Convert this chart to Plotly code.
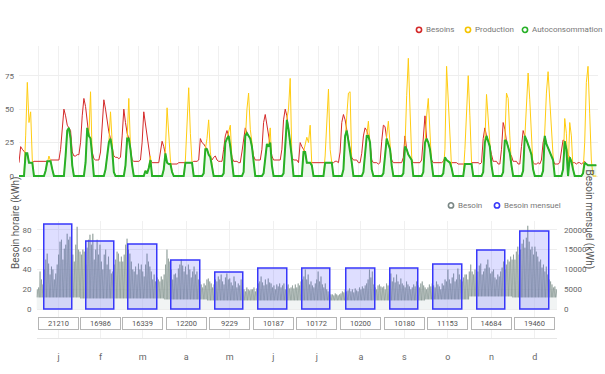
import numpy as np
import plotly.graph_objects as go

W, H = 605, 374

# ---------------- Top panel: hourly values (every 2 h) over 29 days ----------------
HEURES = [0, 2, 4, 6, 8, 10, 12, 14, 16, 18, 20, 22]

BESOINS = [
    [10, 22, 20, 18, 17, 17, 10, 10, 10, 11, 11, 11],
    [11, 11, 11, 11, 11, 11, 11, 12, 12, 12, 12, 12],
    [12, 20, 38, 50, 45, 38, 36, 34, 18, 15, 15, 16],
    [16, 25, 45, 58, 52, 40, 30, 28, 18, 13, 12, 12],
    [12, 18, 40, 57, 50, 40, 33, 28, 20, 15, 14, 14],
    [13, 14, 30, 50, 40, 32, 28, 20, 12, 11, 11, 11],
    [11, 12, 25, 48, 38, 30, 22, 12, 10, 10, 10, 10],
    [10, 18, 26, 22, 17, 10, 9, 9, 9, 9, 9, 9],
    [10, 10, 10, 10, 10, 10, 10, 10, 10, 11, 11, 11],
    [12, 28, 25, 24, 22, 20, 16, 14, 12, 14, 15, 12],
    [11, 11, 11, 20, 30, 34, 30, 22, 14, 11, 11, 11],
    [10, 10, 18, 28, 36, 32, 30, 28, 22, 15, 12, 12],
    [12, 12, 20, 40, 46, 38, 32, 25, 15, 12, 12, 12],
    [12, 12, 20, 42, 50, 45, 35, 25, 14, 12, 12, 12],
    [10, 25, 22, 20, 18, 10, 10, 10, 10, 10, 10, 10],
    [10, 10, 10, 10, 10, 10, 10, 10, 10, 10, 11, 11],
    [10, 18, 40, 46, 42, 34, 26, 20, 14, 12, 12, 12],
    [10, 10, 17, 30, 36, 34, 30, 25, 12, 10, 10, 10],
    [9, 10, 26, 38, 37, 28, 24, 20, 12, 10, 10, 10],
    [10, 10, 10, 14, 30, 20, 16, 14, 12, 10, 10, 10],
    [10, 10, 12, 32, 45, 28, 25, 20, 12, 10, 10, 10],
    [10, 10, 10, 11, 14, 12, 11, 10, 10, 10, 10, 10],
    [9, 9, 9, 9, 9, 9, 9, 9, 10, 10, 10, 10],
    [10, 9, 10, 28, 36, 30, 26, 22, 16, 11, 11, 11],
    [9, 9, 20, 40, 35, 26, 22, 17, 15, 11, 11, 11],
    [9, 9, 22, 34, 30, 27, 24, 20, 16, 10, 9, 9],
    [10, 9, 12, 25, 30, 24, 21, 18, 15, 12, 9, 9],
    [9, 10, 20, 27, 26, 20, 16, 14, 11, 10, 10, 9],
    [10, 10, 9, 10, 11, 9, 8, 8, 8, 8, 8, 8],
]

PRODUCTION = [
    [0, 0, 0, 0, 30, 70, 40, 48, 12, 0, 0, 0],
    [0, 0, 0, 0, 4, 11, 15, 11, 5, 0, 0, 0],
    [0, 0, 0, 0, 15, 34, 36, 28, 8, 0, 0, 0],
    [0, 0, 0, 0, 10, 36, 30, 63, 15, 0, 0, 0],
    [0, 0, 0, 0, 5, 15, 25, 48, 25, 3, 0, 0],
    [0, 0, 0, 0, 8, 28, 58, 22, 8, 0, 0, 0],
    [0, 0, 0, 0, 4, 2, 6, 15, 0, 0, 0, 0],
    [0, 0, 0, 5, 20, 51, 30, 12, 3, 0, 0, 0],
    [0, 0, 0, 0, 12, 40, 66, 32, 10, 0, 0, 0],
    [0, 0, 0, 2, 20, 28, 42, 18, 8, 0, 0, 0],
    [0, 0, 0, 2, 25, 28, 33, 38, 12, 0, 0, 0],
    [0, 0, 0, 3, 30, 50, 62, 35, 25, 10, 0, 0],
    [0, 0, 0, 2, 15, 24, 22, 36, 8, 0, 0, 0],
    [0, 0, 0, 2, 25, 42, 50, 73, 15, 0, 0, 0],
    [0, 0, 0, 18, 25, 29, 25, 38, 8, 0, 0, 0],
    [0, 0, 0, 0, 15, 45, 65, 20, 10, 0, 0, 0],
    [0, 0, 0, 5, 30, 45, 62, 63, 10, 0, 0, 0],
    [0, 0, 0, 3, 20, 30, 41, 25, 5, 0, 0, 0],
    [0, 0, 0, 2, 18, 30, 41, 20, 8, 0, 0, 0],
    [0, 0, 0, 2, 22, 60, 88, 50, 15, 0, 0, 0],
    [0, 0, 0, 3, 25, 45, 58, 35, 8, 0, 0, 0],
    [0, 0, 0, 2, 20, 82, 57, 35, 6, 0, 0, 0],
    [0, 0, 0, 0, 20, 50, 75, 45, 10, 0, 0, 0],
    [0, 0, 0, 3, 25, 61, 40, 25, 8, 0, 0, 0],
    [0, 0, 0, 3, 27, 62, 58, 30, 8, 0, 0, 0],
    [0, 0, 0, 4, 30, 60, 77, 57, 25, 5, 0, 0],
    [0, 0, 0, 4, 35, 62, 78, 55, 35, 15, 0, 0],
    [0, 0, 0, 5, 43, 32, 0, 40, 30, 5, 0, 0],
    [0, 0, 0, 2, 25, 70, 82, 47, 12, 0, 0, 0],
]

AUTOCONSOMMATION = [
    [0, 0, 0, 0, 17, 17, 10, 10, 10, 0, 0, 0],
    [0, 0, 0, 0, 4, 11, 11, 11, 5, 0, 0, 0],
    [0, 0, 0, 0, 15, 34, 36, 28, 8, 0, 0, 0],
    [0, 0, 0, 0, 10, 36, 30, 28, 15, 0, 0, 0],
    [0, 0, 0, 0, 5, 15, 25, 28, 20, 3, 0, 0],
    [0, 0, 0, 0, 8, 28, 28, 20, 8, 0, 0, 0],
    [0, 0, 0, 0, 4, 2, 6, 12, 0, 0, 0, 0],
    [0, 0, 0, 5, 17, 10, 9, 9, 3, 0, 0, 0],
    [0, 0, 0, 0, 10, 10, 10, 10, 10, 0, 0, 0],
    [0, 0, 0, 2, 20, 20, 16, 14, 8, 0, 0, 0],
    [0, 0, 0, 2, 25, 28, 30, 22, 12, 0, 0, 0],
    [0, 0, 0, 3, 30, 32, 30, 28, 22, 10, 0, 0],
    [0, 0, 0, 2, 15, 24, 22, 25, 8, 0, 0, 0],
    [0, 0, 0, 2, 25, 42, 35, 25, 14, 0, 0, 0],
    [0, 0, 0, 18, 18, 10, 10, 10, 8, 0, 0, 0],
    [0, 0, 0, 0, 10, 10, 10, 10, 10, 0, 0, 0],
    [0, 0, 0, 5, 30, 34, 26, 20, 10, 0, 0, 0],
    [0, 0, 0, 3, 20, 30, 30, 25, 5, 0, 0, 0],
    [0, 0, 0, 2, 18, 28, 24, 20, 8, 0, 0, 0],
    [0, 0, 0, 2, 22, 20, 16, 14, 12, 0, 0, 0],
    [0, 0, 0, 3, 25, 28, 25, 20, 8, 0, 0, 0],
    [0, 0, 0, 2, 14, 12, 11, 10, 6, 0, 0, 0],
    [0, 0, 0, 0, 9, 9, 9, 9, 9, 0, 0, 0],
    [0, 0, 0, 3, 25, 30, 26, 22, 8, 0, 0, 0],
    [0, 0, 0, 3, 27, 26, 22, 17, 8, 0, 0, 0],
    [0, 0, 0, 4, 30, 27, 24, 20, 16, 5, 0, 0],
    [0, 0, 0, 4, 30, 24, 21, 18, 15, 12, 0, 0],
    [0, 0, 0, 5, 26, 20, 0, 14, 11, 5, 0, 0],
    [0, 0, 0, 2, 10, 9, 8, 8, 8, 8, 8, 8],
]

# ---------------- Bottom panel: yearly hourly need (daily peaks) + monthly totals ----------------
MOIS = ["j", "f", "m", "a", "m", "j", "j", "a", "s", "o", "n", "d"]
JOURS_PAR_MOIS = [31, 28, 31, 30, 31, 30, 31, 31, 30, 31, 30, 31]
BESOIN_MENSUEL = [21210, 16986, 16339, 12200, 9229, 10187, 10172, 10200, 10180, 11153, 14684, 19460]
BASE_NUIT = [12, 11, 11, 10, 9, 9, 9, 9, 9, 10, 13, 12]
TICKS_MENSUEL = [0, 5000, 10000, 15000, 20000]

PIC_JAN = [20, 22, 38, 30, 25, 40, 50, 56, 46, 35, 43, 40, 30, 36, 45, 55, 68, 70, 50, 61, 65, 76, 70, 73, 60, 55, 48, 65, 83, 60, 58]
PIC_FEV = [55, 60, 58, 45, 62, 70, 75, 65, 76, 50, 60, 70, 55, 65, 48, 40, 55, 60, 45, 53, 40, 36, 38, 45, 50, 58, 56, 48]
PIC_MAR = [53, 48, 55, 65, 71, 60, 56, 48, 40, 38, 43, 35, 46, 40, 45, 38, 33, 45, 56, 48, 43, 38, 30, 35, 28, 32, 30, 28, 33, 30, 35]
PIC_AVR = [45, 60, 51, 48, 40, 30, 35, 36, 32, 41, 45, 50, 44, 38, 43, 35, 45, 40, 32, 38, 43, 35, 38, 30, 28, 25, 22, 26, 24, 30]
PIC_MAI = [31, 28, 26, 22, 25, 30, 28, 33, 30, 35, 28, 25, 32, 36, 30, 31, 27, 24, 33, 28, 22, 26, 24, 30, 26, 20, 18, 22, 20, 19, 20]
PIC_JUN = [20, 22, 18, 21, 26, 28, 33, 27, 24, 30, 25, 31, 27, 26, 22, 24, 20, 25, 23, 26, 22, 24, 26, 20, 23, 25, 21, 22, 24, 21]
PIC_JUL = [25, 22, 26, 24, 28, 30, 33, 40, 30, 35, 25, 28, 24, 22, 26, 30, 38, 28, 33, 25, 22, 26, 20, 18, 16, 15, 15, 14, 16, 15, 14]
PIC_AOU = [15, 16, 18, 17, 20, 18, 19, 21, 18, 20, 17, 21, 19, 18, 22, 20, 23, 21, 24, 26, 30, 40, 32, 38, 25, 22, 20, 24, 25, 23, 22]
PIC_SEP = [23, 20, 26, 24, 30, 36, 28, 32, 27, 35, 28, 25, 31, 26, 24, 22, 28, 25, 23, 20, 22, 25, 23, 28, 24, 22, 26, 28, 24, 22]
PIC_OCT = [20, 22, 25, 23, 26, 24, 22, 28, 25, 23, 20, 26, 24, 30, 28, 40, 30, 26, 32, 36, 28, 30, 41, 35, 30, 28, 32, 35, 35, 30, 38]
PIC_NOV = [45, 38, 35, 40, 42, 38, 44, 46, 35, 38, 41, 45, 50, 42, 36, 38, 40, 32, 30, 35, 33, 38, 42, 48, 40, 45, 50, 48, 53, 50]
PIC_DEC = [55, 50, 58, 63, 55, 60, 66, 70, 62, 72, 84, 68, 60, 63, 55, 63, 58, 53, 48, 50, 42, 45, 38, 43, 35, 30, 28, 25, 22, 23, 20]

PICS = [PIC_JAN, PIC_FEV, PIC_MAR, PIC_AVR, PIC_MAI, PIC_JUN,
        PIC_JUL, PIC_AOU, PIC_SEP, PIC_OCT, PIC_NOV, PIC_DEC]

# ---------------- build series ----------------
x_top, r_top, y_top, g_top = [], [], [], []
for d in range(len(BESOINS)):
    for i, h in enumerate(HEURES):
        x_top.append(d * 24 + h)
        r_top.append(BESOINS[d][i])
        y_top.append(PRODUCTION[d][i])
        g_top.append(AUTOCONSOMMATION[d][i])
NJ = len(BESOINS)

debut_mois = np.concatenate([[0], np.cumsum(JOURS_PAR_MOIS)[:-1]])
centre_mois = debut_mois + np.array(JOURS_PAR_MOIS) / 2.0

x_an, y_an = [], []
for m, pics in enumerate(PICS):
    for i, p in enumerate(pics):
        d = debut_mois[m] + i
        x_an += [d, d + 0.5]
        y_an += [BASE_NUIT[m], p]
x_an.append(365)
y_an.append(BASE_NUIT[-1])

# ---------------- figure ----------------
FONT = "Roboto, Arial, sans-serif"
TXT = "#666666"
RED, YEL, GRN = "#d42a2a", "#ffcc11", "#27b027"
GREY = "rgba(120,138,132,0.7)"
BLUE = "rgb(55,55,250)"

fig = go.Figure()

fig.add_trace(go.Scatter(x=x_top, y=r_top, mode="lines", name="Besoins",
                         line=dict(color=RED, width=1), xaxis="x", yaxis="y"))
fig.add_trace(go.Scatter(x=x_top, y=y_top, mode="lines", name="Production",
                         line=dict(color=YEL, width=1), xaxis="x", yaxis="y"))
fig.add_trace(go.Scatter(x=x_top, y=g_top, mode="lines", name="Autoconsommation",
                         line=dict(color=GRN, width=2), fill="tozeroy",
                         fillcolor="rgba(39,176,39,0.09)", xaxis="x", yaxis="y"))

fig.add_trace(go.Scatter(x=x_an, y=y_an, mode="lines", name="Besoin",
                         line=dict(color=GREY, width=0.8), fill="tozeroy",
                         fillcolor="rgba(225,230,230,0.45)", xaxis="x2", yaxis="y2"))
fig.add_trace(go.Bar(x=centre_mois, y=BESOIN_MENSUEL, width=20, name="Besoin mensuel",
                     marker=dict(color="rgba(60,60,255,0.17)", line=dict(color=BLUE, width=1.5)),
                     xaxis="x2", yaxis="y3"))

def px(x):
    return x / W

def py(y):
    return 1 - y / H

fig.update_layout(
    width=W, height=H, margin=dict(l=0, r=0, t=0, b=0),
    paper_bgcolor="white", plot_bgcolor="white", showlegend=False,
    font=dict(family=FONT, color=TXT),
    xaxis=dict(domain=[px(19), px(598)], range=[0, NJ * 24], tick0=0, dtick=24,
               showticklabels=False, showgrid=True, gridcolor="#f0f0f0",
               zeroline=False, showline=False, anchor="y"),
    yaxis=dict(domain=[py(179.7), py(46.5)], range=[-2, 97], tickvals=[0, 25, 50, 75],
               gridcolor="#eeeeee", zeroline=False, tickfont=dict(size=8, color=TXT),
               ticklabelstandoff=4, anchor="x"),
    xaxis2=dict(domain=[px(36.5), px(557)], range=[0, 365], tickvals=list(centre_mois),
                ticktext=MOIS, showgrid=True, gridcolor="#f0f0f0", zeroline=False,
                showline=True, linecolor="#e6e6e6", ticks="outside", ticklen=10,
                tickcolor="rgba(0,0,0,0)", tickfont=dict(size=9, color=TXT), anchor="y2"),
    yaxis2=dict(domain=[py(340), py(222)], range=[-29, 89], tickvals=[0, 20, 40, 60, 80],
                gridcolor="#eeeeee", zeroline=False, tickfont=dict(size=8, color=TXT),
                ticklabelstandoff=4, anchor="x2"),
    yaxis3=dict(overlaying="y2", side="right", range=[-29 * 250, 89 * 250],
                tickvals=TICKS_MENSUEL, ticktext=[str(t) for t in TICKS_MENSUEL],
                showgrid=False, zeroline=False, ticklabelstandoff=6,
                tickfont=dict(size=8, color=TXT), anchor="x2"),
    bargap=0,
)

annotations = []
for c, v in zip(centre_mois, BESOIN_MENSUEL):
    annotations.append(dict(x=c, y=-14, xref="x2", yref="y2", text=str(v), showarrow=False,
                            font=dict(size=7.5, color="#555555", family=FONT),
                            bordercolor="#b5b5b5", borderwidth=1, borderpad=1.5,
                            bgcolor="white", width=36, height=8))

annotations.append(dict(x=px(8), y=py(273), xref="paper", yref="paper",
                        text="Besoin horaire (kWh)", textangle=-90, showarrow=False,
                        font=dict(size=10, color="#555555", family=FONT)))
annotations.append(dict(x=px(597), y=py(273), xref="paper", yref="paper",
                        text="Besoin mensuel (kWh)", textangle=90, showarrow=False,
                        font=dict(size=10, color="#555555", family=FONT)))

shapes = []
legendes = [
    (419, 30, RED, "Besoins"),
    (468, 30, "#f5c400", "Production"),
    (525, 30, GRN, "Autoconsommation"),
    (451, 206.5, "#7a8785", "Besoin"),
    (497, 206.5, BLUE, "Besoin mensuel"),
]
for cx, cy, col, lab in legendes:
    r = 2.6
    shapes.append(dict(type="circle", xref="paper", yref="paper",
                       x0=px(cx - r), x1=px(cx + r), y0=py(cy + r), y1=py(cy - r),
                       line=dict(color=col, width=1.6), fillcolor="white"))
    annotations.append(dict(x=px(cx + 5), y=py(cy), xref="paper", yref="paper",
                            xanchor="left", yanchor="middle", text=lab, showarrow=False,
                            font=dict(size=8, color="#777777", family=FONT)))

fig.update_layout(annotations=annotations, shapes=shapes)

fig.write_html("out.html", config={"displayModeBar": False})

# remove the default page margin so the 605x374 figure fills the window exactly
with open("out.html", "r", encoding="utf-8") as f:
    html = f.read()
html = html.replace("<body>", "<body style=\"margin:0;padding:0;overflow:hidden\">", 1)
with open("out.html", "w", encoding="utf-8") as f:
    f.write(html)
